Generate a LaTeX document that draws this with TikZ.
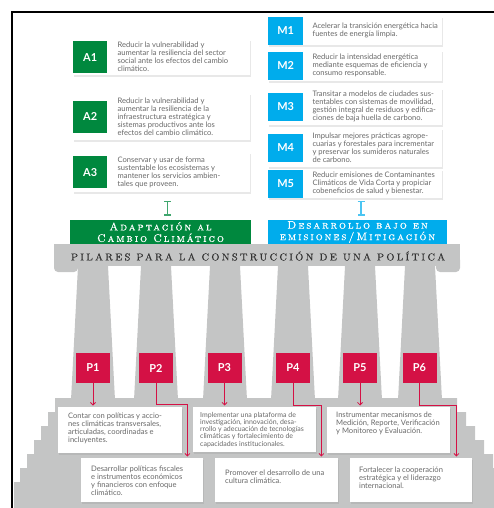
\documentclass[tikz,border=0pt]{standalone}
\usepackage{fontspec}
\newfontfamily\lato{Lato}
\newfontfamily\capsfont{lmromancaps10-regular.otf}[LetterSpace=18,FakeBold=0.6]
\newfontfamily\pilarfont{lmromancaps10-regular.otf}[LetterSpace=20,FakeBold=0.4]
\usetikzlibrary{positioning,arrows.meta,shadows}
\definecolor{agreen}{RGB}{0,136,62}
\definecolor{mblue}{RGB}{0,172,236}
\definecolor{pred}{RGB}{212,17,69}
\definecolor{pgrey}{RGB}{196,197,197}
\definecolor{tgrey}{RGB}{105,105,105}

\begin{document}
\begin{tikzpicture}[x=1bp,y=-1bp,
	panel/.style={fill=white,inner sep=0pt,anchor=north west,drop shadow={shadow xshift=0.5bp,shadow yshift=-2bp,opacity=0.18}},
	acode/.style={fill=agreen,text=white,font=\lato\bfseries\fontsize{11}{11}\selectfont,minimum width=34bp,minimum height=32bp,inner sep=0pt},
	mcode/.style={acode,fill=mblue,minimum width=35bp,minimum height=28bp},
	pcode/.style={acode,fill=pred,minimum width=34bp,minimum height=30bp},
	note/.style={font=\lato\fontsize{7.6}{8}\selectfont,text=tgrey,align=left,inner sep=0pt},
	banner/.style={text=white,font=\capsfont\fontsize{11}{11.5}\selectfont,align=center,minimum height=24bp,inner sep=0pt},
	parrow/.style={pred,line width=0.8bp,shorten >=1.5bp,-{Straight Barb[length=2.5bp,width=5bp]}}]
	\useasboundingbox (0,0) rectangle (494,508);
	\draw[line width=2bp] (12,508) -- (12,12) -- (494,12);
	% adaptacion
	\node[panel,minimum width=177bp,minimum height=36bp] (a1p) at (73,39) {};
	\node[acode,anchor=west] (a1) at (a1p.west) {A1};
	\node[note,right=10bp of a1] (a1t) {Reducir la vulnerabilidad y\\aumentar la resiliencia del sector\\social ante los efectos del cambio\\climático.};
	\node[panel,minimum width=177bp,minimum height=47bp] (a2p) at (73,93) {};
	\node[acode,anchor=west] (a2) at (a2p.west) {A2};
	\node[note,right=10bp of a2] (a2t) {Reducir la vulnerabilidad y\\aumentar la resiliencia de la\\infraestructura estratégica y\\sistemas productivos ante los\\efectos del cambio climático.};
	\node[panel,minimum width=177bp,minimum height=40bp] (a3p) at (73,152) {};
	\node[acode,anchor=west] (a3) at (a3p.west) {A3};
	\node[note,right=10bp of a3] (a3t) {Conservar y usar de forma\\sustentable los ecosistemas y\\mantener los servicios ambien-\\tales que proveen.};
	% mitigacion
	\node[panel,minimum width=174bp,minimum height=29bp] (m1p) at (268,16) {};
	\node[mcode,anchor=west] (m1) at (m1p.west) {M1};
	\node[note,right=9bp of m1] (m1t) {Acelerar la transición energética hacia\\fuentes de energía limpia.};
	\node[panel,minimum width=174bp,minimum height=31bp] (m2p) at (268,50) {};
	\node[mcode,anchor=west] (m2) at (m2p.west) {M2};
	\node[note,right=9bp of m2] (m2t) {Reducir la intensidad energética\\mediante esquemas de eficiencia y\\consumo responsable.};
	\node[panel,minimum width=174bp,minimum height=37bp] (m3p) at (268,88) {};
	\node[mcode,anchor=west] (m3) at (m3p.west) {M3};
	\node[note,right=9bp of m3] (m3t) {Transitar a modelos de ciudades sus-\\tentables con sistemas de movilidad,\\gestión integral de residuos y edifica-\\ciones de baja huella de carbono.};
	\node[panel,minimum width=174bp,minimum height=39bp] (m4p) at (268,128) {};
	\node[mcode,anchor=west] (m4) at (m4p.west) {M4};
	\node[note,right=9bp of m4] (m4t) {Impulsar mejores prácticas agrope-\\cuarias y forestales para incrementar\\y preservar los sumideros naturales\\de carbono.};
	\node[panel,minimum width=174bp,minimum height=29bp] (m5p) at (268,169) {};
	\node[mcode,anchor=west] (m5) at (m5p.west) {M5};
	\node[note,right=9bp of m5] (m5t) {Reducir emisiones de Contaminantes\\Climáticos de Vida Corta y propiciar\\cobeneficios de salud y bienestar.};
	% banners
	\node[banner,fill=agreen,minimum width=181bp] (adapt) at (160.5,232) {Adaptación al\\Cambio Climático};
	\node[banner,fill=mblue,minimum width=179bp] (mitig) at (357.5,232) {Desarrollo bajo en\\emisiones/Mitigación};
	\draw[agreen!75,line width=1.5bp,{Bar[width=7bp]}-{Bar[width=7bp]}] ([xshift=7bp,yshift=4bp]adapt.north) -- ([xshift=7bp,yshift=19bp]adapt.north);
	\draw[mblue!70,line width=1.5bp,{Bar[width=7bp]}-{Bar[width=7bp]}] ([xshift=3.5bp,yshift=4bp]mitig.north) -- ([xshift=3.5bp,yshift=19bp]mitig.north);
	% templo
	\fill[pgrey] (54,244) rectangle (460,266);
	\fill[pgrey,rounded corners=4bp] (54,256) rectangle (78,272);
	\fill[pgrey,rounded corners=4bp] (436,256) rectangle (460,272);
	\node[font=\pilarfont\fontsize{10}{10}\selectfont,text=black!80] (pilares) at (258,256) {PILARES PARA LA CONSTRUCCIÓN DE UNA POLÍTICA};
	\foreach \cx in {93,156,225,293,360,420}
		\fill[pgrey] (\cx-15,266) -- (\cx+15,266) -- (\cx+22,400) -- (\cx-22,400) -- cycle;
	\fill[pgrey] (55,398) -- (457,398) -- (457,412) -- (466,412) -- (466,426) -- (475,426) -- (475,440) -- (484,440) -- (484,454) -- (493,454) -- (493,468) -- (494,468) -- (494,508)
		-- (14,508) -- (14,482) -- (20,482) -- (20,468) -- (27,468) -- (27,454) -- (34,454) -- (34,440) -- (41,440) -- (41,426) -- (48,426) -- (48,412) -- (55,412) -- cycle;
	\node[pcode] (p1) at (93,368) {P1};
	\node[pcode] (p2) at (156,368) {P2};
	\node[pcode] (p3) at (224.5,368) {P3};
	\node[pcode] (p4) at (293,368) {P4};
	\node[pcode] (p5) at (360,368) {P5};
	\node[pcode] (p6) at (419.5,368) {P6};
	% base
	\node[panel,minimum width=124bp,minimum height=46bp] (b1) at (58,407) {};
	\node[panel,minimum width=123bp,minimum height=45bp] (b3) at (193,407) {};
	\node[panel,minimum width=123bp,minimum height=46bp] (b5) at (327,407) {};
	\node[panel,minimum width=122bp,minimum height=44bp] (b2) at (81,458) {};
	\node[panel,minimum width=123bp,minimum height=44bp] (b4) at (215,458) {};
	\node[panel,minimum width=122bp,minimum height=44bp] (b6) at (350,458) {};
	\node[note,anchor=north west] (b1t) at ([shift={(10,6)}]b1.north west) {Contar con políticas y accio-\\nes climáticas transversales,\\articuladas, coordinadas e\\incluyentes.};
	\node[note,anchor=north west,font=\lato\fontsize{7}{7.2}\selectfont] (b3t) at ([shift={(7,5)}]b3.north west) {Implementar una plataforma de\\investigación, innovación, desa-\\rrollo y adecuación de tecnologías\\climáticas y fortalecimiento de\\capacidades institucionales.};
	\node[note,anchor=north west] (b5t) at ([shift={(9,5)}]b5.north west) {Instrumentar mecanismos de\\Medición, Reporte, Verificación\\y Monitoreo y Evaluación.};
	\node[note,anchor=north west] (b2t) at ([shift={(10,8)}]b2.north west) {Desarrollar políticas fiscales\\e instrumentos económicos\\y financieros con enfoque\\climático.};
	\node[note,anchor=north west] (b4t) at ([shift={(10,12)}]b4.north west) {Promover el desarrollo de una\\cultura climática.};
	\node[note,anchor=north west] (b6t) at ([shift={(9,9)}]b6.north west) {Fortalecer la cooperación\\estratégica y el liderazgo\\internacional.};
	\draw[parrow] (p1) -- (p1 |- b1.north);
	\draw[parrow] (p2.south) -- ++(0,21) -| ([xshift=-16bp]b2.north east);
	\draw[parrow] (p3) -- (p3 |- b3.north);
	\draw[parrow] (p4.south) -- ++(0,22) -| ([xshift=-17bp]b4.north east);
	\draw[parrow] (p5) -- (p5 |- b5.north);
	\draw[parrow] (p6.south) -- ++(0,22) -| ([xshift=-16bp]b6.north east);
\end{tikzpicture}
\end{document}
